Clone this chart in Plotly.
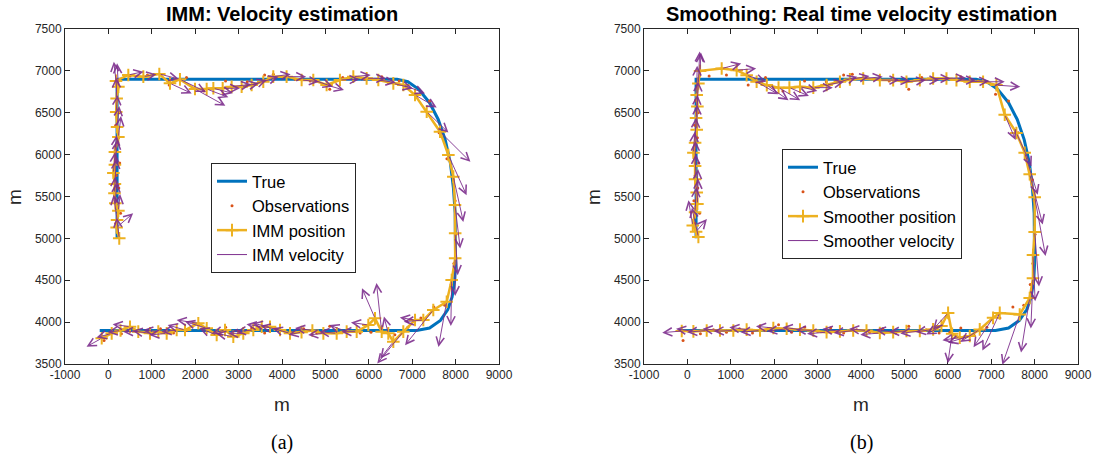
import plotly.graph_objects as go

# ---------------- data ----------------
# true trajectory waypoints (m)
true_x = [200, 200, 6650, 6900, 7150, 7400, 7600, 7760, 7880, 7950, 7990, 8000, 8000,
          7980, 7920, 7820, 7650, 7400, 7100, 7000, -200]
true_y = [5000, 6900, 6900, 6870, 6780, 6620, 6420, 6180, 5900, 5600, 5300, 5000, 4700,
          4500, 4300, 4150, 4020, 3930, 3900, 3900, 3900]

# observations (m)
obs_x = [230, 170, 280, 150, 240, 180, 260, 160, 230, 170, 250, 190, 220,
         500, 900, 1400, 1800, 2200, 2700, 3200, 3600, 3800, 4300, 4650, 5100, 5400, 5900, 6300, 6700,
         7100, 7400, 7620, 7800, 7950, 7990, 8010, 7960, 7900, 7750, 7500, 7200,
         6900, 6600, 6300, 6050, 5800, 5500, 5100, 4800, 4500, 4200, 3900, 3600, 3300, 3000,
         2700, 2400, 2100, 1800, 1500, 1200, 900, 600, 300, -100]
obs_y = [5050, 5180, 5300, 5450, 5600, 5750, 5900, 6050, 6200, 6350, 6500, 6650, 6800,
         6940, 6950, 6830, 6920, 6760, 6880, 6870, 6950, 6960, 6900, 6880, 6780, 6920, 6900, 6930, 6880,
         6720, 6640, 6260, 5950, 5700, 5450, 5050, 4700, 4450, 4200, 4180, 4050,
         3940, 3850, 3930, 3880, 3870, 3910, 3950, 3870, 3920, 3880, 3910, 3870, 3930, 3890,
         3940, 3880, 3970, 3900, 3870, 3920, 3880, 3910, 3860, 3780]

# IMM position estimates (m)
imm_x = [250, 190, 200, 230, 160, 140, 150, 115, 150, 150, 230, 200, 180, 190, 230, 175,
         459, 805, 1173, 1419, 1649, 1995, 2264, 2418, 2633, 2840, 3070, 3300, 3569, 3799,
         4106, 4452, 4721, 5028, 5335, 5643, 5950, 6219, 6565, 6796,
         7065, 7334, 7641, 7833, 7948, 7986, 7990, 7990, 7910, 7795, 7486, 7256, 7065, 6795,
         6565, 6449, 6297, 6143, 5989, 5721, 5490, 5260,
         4953, 4700, 4450, 4184, 3954, 3724, 3532, 3339, 3108, 2878, 2687, 2495, 2265, 2072,
         1765, 1573, 1343, 1150, 958, 689, 498, 280, 76, -154]
imm_y = [5000, 5130, 5220, 5330, 5420, 5540, 5650, 5780, 5880, 6030, 6210, 6330, 6510, 6670, 6810, 6880,
         6951, 6931, 6963, 6851, 6899, 6784, 6784, 6792, 6792, 6811, 6811, 6831, 6871, 6931,
         6931, 6891, 6891, 6831, 6891, 6931, 6911, 6891, 6851, 6831,
         6712, 6513, 6274, 5996, 5737, 5398, 5061, 4762, 4503, 4244, 4145, 4025, 4025, 3886,
         3766, 3866, 3886, 4045, 3966, 3886, 3886, 3866,
         3866, 3900, 3880, 3866, 3906, 3945, 3945, 3906, 3866, 3826, 3906, 3846, 3926, 3986,
         3906, 3906, 3866, 3886, 3866, 3886, 3945, 3900, 3866, 3807]
# IMM velocity vectors (drawn length, m)
imm_vx = [-60, 380, -80, 40, 30, 20, 30, 40, 60, 40, 60, 50, 30, -10, -30, -50,
          350, 300, 450, 500, 600, 700, 500, 450, 400, 450, 400, 350, 350, 400,
          450, 400, 450, 400, 450, 400, 450, 400, 450, 500,
          500, 500, 700, 420, 230, 120, 60, 0, -20, -190, -650, -450, -350, -600,
          -300, -100, -120, -300, -400, -350, -400, -400,
          -350, -400, -300, -400, -450, -400, -350, -400, -350, -400, -300, -400, -500, -500,
          -400, -350, -400, -350, -400, -350, -400, -300, -350, -350]
imm_vy = [250, 170, 300, 200, 250, 200, 300, 250, 300, 200, 250, 250, 200, 250, 280, 230,
          40, 30, -60, -120, -150, -200, -100, -60, 0, 30, 40, 60, 60, 30,
          0, -20, -80, -60, 10, 20, 0, -30, -60, -100,
          -150, -250, -360, -480, -540, -520, -500, -450, -550, -540, -420, -20, 30, -380,
          -200, 200, 580, 360, 30, 0, 80, 20,
          -20, 30, -30, 60, 50, 40, 30, -20, 0, 40, -40, 80, 80, 40,
          60, -20, -20, 20, 30, 0, 30, -20, -50, -100]

# Smoother position estimates (m)
sm_x = [253, 200, 124, 177, 230, 215, 177, 177, 139, 177, 215, 200, 230, 215, 253,
        292, 790, 1135, 1365, 1595, 1830, 2100, 2350, 2594, 2901, 3207, 3514, 3744, 4051,
        4434, 4741, 5048, 5355, 5662, 5969, 6199, 6506, 6813, 7120,
        7312, 7580, 7772, 7887, 8002, 8002, 7963, 7963, 7887, 7657, 7197, 7043, 6736, 6506,
        6276, 6100, 6007, 5853, 5662, 5355, 5048,
        4741, 4434, 4127, 3820, 3514, 3207, 2901, 2594, 2287, 1980, 1673, 1365, 1058, 751,
        445, 138, -130]
sm_y = [5017, 5080, 5155, 5313, 5411, 5549, 5707, 5865, 6022, 6141, 6298, 6436, 6574, 6712, 6850,
        7000, 7028, 7008, 6949, 6870, 6830, 6800, 6800, 6811, 6800, 6831, 6870, 6898, 6909,
        6890, 6890, 6870, 6890, 6909, 6909, 6890, 6870, 6870, 6830,
        6476, 6259, 6022, 5766, 5490, 5076, 4800, 4524, 4288, 4091, 4110, 4051, 3913, 3835,
        3815, 3860, 4110, 3953, 3913, 3894, 3894,
        3880, 3870, 3900, 3900, 3890, 3880, 3900, 3910, 3920, 3930, 3900, 3910, 3900, 3900,
        3900, 3890, 3894]
# Smoother velocity vectors (drawn length, m)
sm_vx = [-150, 250, -100, 30, 20, 30, 20, 10, 30, 20, 10, 30, 20, 10, 30,
         20, 450, 450, 450, 500, 500, 500, 450, 400, 450, 400, 400, 450, 450,
         450, 400, 450, 450, 400, 450, 450, 450, 500, 550,
         250, 350, 300, 300, 250, 100, 50, -50, -200, -400, -400, -450, -450, -500,
         -400, -100, -350, -350, -400, -450, -400,
         -400, -450, -400, -450, -400, -450, -400, -400, -450, -400, -450, -400, -450, -400,
         -450, -400, -450]
sm_vy = [350, 150, 300, 300, 300, 280, 300, 300, 250, 300, 300, 280, 300, 350, 380,
         220, 60, 20, -80, -150, -180, -150, -100, -50, 0, 40, 60, 40, 20,
         0, -10, 20, 0, 0, 10, 0, 10, 0, -20,
         -300, -400, -500, -600, -700, -650, -550, -600, -650, -600, -450, -350, -150, -80,
         -30, -350, -200, -100, -30, -30, -10,
         30, -20, 20, -30, 30, -20, 10, 30, -30, 20, -20, 30, -10, 20,
         -20, 30, -20]

x_tick_vals = [-1000, 0, 1000, 2000, 3000, 4000, 5000, 6000, 7000, 8000, 9000]
x_tick_text = ["-1000", "0", "1000", "2000", "3000", "4000", "5000", "6000", "7000", "8000", "9000"]
y_tick_vals = [3500, 4000, 4500, 5000, 5500, 6000, 6500, 7000, 7500]
y_tick_text = ["3500", "4000", "4500", "5000", "5500", "6000", "6500", "7000", "7500"]

titles = ["IMM: Velocity estimation", "Smoothing: Real time velocity estimation"]
pos_names = ["IMM position", "Smoother position"]
vel_names = ["IMM velocity", "Smoother velocity"]
captions = ["(a)", "(b)"]

# ---------------- styling ----------------
W, H = 1097, 462
C_TRUE = "#0072BD"
C_OBS = "#D95319"
C_POS = "#EDB120"
C_VEL = "#7E2F8E"
AX = "#262626"
FONT = "Liberation Sans, Arial, sans-serif"

boxes = [(65, 499), (644, 1078)]  # pixel left/right of each axes
top_px, bot_px = 29, 364

fig = go.Figure()
annotations = []

panels = [
    (imm_x, imm_y, imm_vx, imm_vy),
    (sm_x, sm_y, sm_vx, sm_vy),
]

for i, (px_, py_, vx_, vy_) in enumerate(panels):
    xa = "x" if i == 0 else "x2"
    ya = "y" if i == 0 else "y2"
    lg = "legend" if i == 0 else "legend2"
    fig.add_trace(go.Scatter(x=true_x, y=true_y, mode="lines", name="True",
                             line=dict(color=C_TRUE, width=3), xaxis=xa, yaxis=ya, legend=lg))
    fig.add_trace(go.Scatter(x=obs_x, y=obs_y, mode="markers", name="Observations",
                             marker=dict(color=C_OBS, size=3), xaxis=xa, yaxis=ya, legend=lg))
    fig.add_trace(go.Scatter(x=px_, y=py_, mode="lines+markers", name=pos_names[i],
                             line=dict(color=C_POS, width=2.5),
                             marker=dict(symbol="cross-thin", size=9,
                                         line=dict(color=C_POS, width=2), color=C_POS),
                             xaxis=xa, yaxis=ya, legend=lg))
    fig.add_trace(go.Scatter(x=[None], y=[None], mode="lines", name=vel_names[i],
                             line=dict(color=C_VEL, width=1), xaxis=xa, yaxis=ya, legend=lg))
    for x0, y0, dx, dy in zip(px_, py_, vx_, vy_):
        annotations.append(dict(x=x0 + dx, y=y0 + dy, ax=x0, ay=y0,
                                xref=xa, yref=ya, axref=xa, ayref=ya,
                                text="", showarrow=True, arrowhead=5, arrowsize=1.6,
                                arrowwidth=1, arrowcolor=C_VEL, opacity=0.9))
    l, r = boxes[i]
    cx = (l + r) / 2 / W
    annotations.append(dict(text="<b>%s</b>" % titles[i], x=cx, y=1 - 14 / H, xref="paper", yref="paper",
                            showarrow=False, font=dict(family=FONT, size=20, color="black"),
                            xanchor="center", yanchor="middle"))
    annotations.append(dict(text="m", x=cx, y=1 - 404 / H, xref="paper", yref="paper",
                            showarrow=False, font=dict(family=FONT, size=19, color=AX),
                            xanchor="center", yanchor="middle"))
    annotations.append(dict(text="m", x=(l - 50) / W, y=1 - 197 / H, xref="paper", yref="paper",
                            showarrow=False, textangle=-90, font=dict(family=FONT, size=19, color=AX),
                            xanchor="center", yanchor="middle"))
    annotations.append(dict(text=captions[i], x=cx, y=1 - 442 / H, xref="paper", yref="paper",
                            showarrow=False,
                            font=dict(family="Liberation Serif, Times New Roman, serif", size=20, color="black"),
                            xanchor="center", yanchor="middle"))

axis_common = dict(showline=True, linecolor=AX, linewidth=1, mirror="ticks", ticks="inside",
                   ticklen=5, tickcolor=AX, showgrid=False, zeroline=False, automargin=False,
                   tickfont=dict(family=FONT, size=12, color=AX))

ydom = [1 - bot_px / H, 1 - top_px / H]
fig.update_layout(
    width=W, height=H, margin=dict(l=0, r=0, t=0, b=0, pad=0, autoexpand=False),
    paper_bgcolor="white", plot_bgcolor="white",
    showlegend=True,
    xaxis=dict(domain=[boxes[0][0] / W, boxes[0][1] / W], range=[-1000, 9000],
               tickvals=x_tick_vals, ticktext=x_tick_text, anchor="y", **axis_common),
    yaxis=dict(domain=ydom, range=[3500, 7500], tickvals=y_tick_vals, ticktext=y_tick_text,
               anchor="x", **axis_common),
    xaxis2=dict(domain=[boxes[1][0] / W, boxes[1][1] / W], range=[-1000, 9000],
                tickvals=x_tick_vals, ticktext=x_tick_text, anchor="y2", **axis_common),
    yaxis2=dict(domain=ydom, range=[3500, 7500], tickvals=y_tick_vals, ticktext=y_tick_text,
                anchor="x2", **axis_common),
    legend=dict(x=211 / W, y=1 - 163 / H, xanchor="left", yanchor="top",
                bordercolor=AX, borderwidth=1, bgcolor="white",
                font=dict(family=FONT, size=16.5, color="black"), tracegroupgap=0,
                itemwidth=30),
    legend2=dict(x=782 / W, y=1 - 149 / H, xanchor="left", yanchor="top",
                 bordercolor=AX, borderwidth=1, bgcolor="white",
                 font=dict(family=FONT, size=16.5, color="black"), tracegroupgap=0,
                 itemwidth=30),
    annotations=annotations,
)

fig.write_html("out.html", config={"displayModeBar": False},
               post_script="document.body.style.margin='0';document.body.style.overflow='hidden';")
